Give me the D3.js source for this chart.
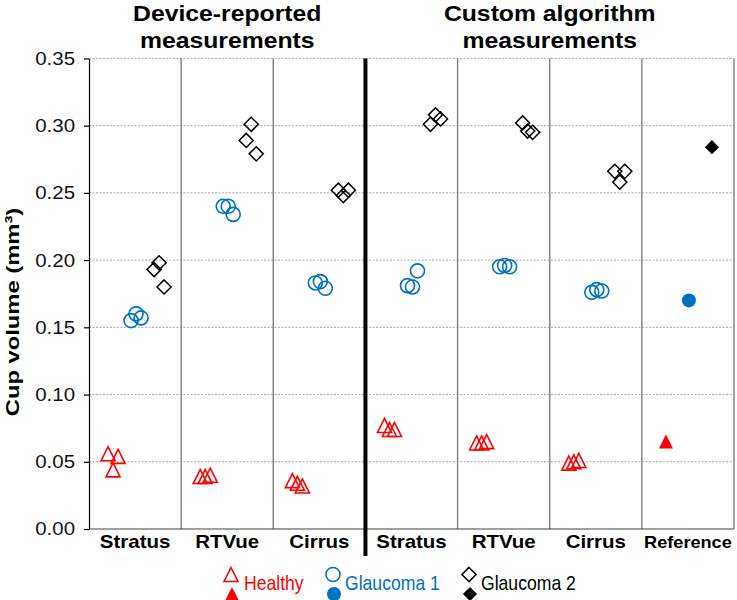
<!DOCTYPE html>
<html><head><meta charset="utf-8">
<script src="https://cdn.jsdelivr.net/npm/d3@7"></script>
<style>body{margin:0;background:#fff}svg{display:block}text{font-family:"Liberation Sans",Arial,sans-serif}</style>
</head><body><svg id="c" width="737" height="600"></svg>
<script>
// ---- data ----
const categories = ["Stratus","RTVue","Cirrus","Stratus","RTVue","Cirrus","Reference"];
const panelOf = [0,0,0,1,1,1,1];
const panelTitles = [["Device-reported","measurements"],["Custom algorithm","measurements"]];
const seriesNames = ["Healthy","Glaucoma 1","Glaucoma 2"];
const healthy   = [[0.056,0.044,0.054],[0.039,0.039,0.040],[0.036,0.034,0.032],[0.077,0.074,0.074],[0.064,0.064,0.065],[0.049,0.050,0.051],[0.065]];
const glaucoma1 = [[0.155,0.160,0.157],[0.240,0.240,0.234],[0.183,0.184,0.179],[0.181,0.180,0.192],[0.195,0.196,0.195],[0.176,0.178,0.177],[0.170]];
const glaucoma2 = [[0.193,0.198,0.180],[0.289,0.301,0.279],[0.252,0.248,0.252],[0.301,0.308,0.305],[0.302,0.296,0.295],[0.266,0.258,0.266],[0.284]];
const yTicks = [0,0.05,0.10,0.15,0.20,0.25,0.30,0.35];
const yTitle = "Cup volume (mm³)";
const filledCategory = "Reference";

// ---- layout ----
const L=89, R=734, T=58.4, B=529;
const svg = d3.select("#c");
const x = d3.scaleBand().domain(d3.range(categories.length)).range([L,R]);
const y = d3.scaleLinear().domain([0,0.35]).range([B,T]);
const gOff = d3.scalePoint().domain(seriesNames).range([-22,24]);
const rOff = d3.scalePoint().domain([0,1,2]).range([-5,5]);

const colors = {"Healthy":"#ff0000","Glaucoma 1":"#0070c0","Glaucoma 2":"#000000"};
const triUp = {draw(ctx,size){const s=Math.sqrt(size)/2;ctx.moveTo(0,-s);ctx.lineTo(s,s);ctx.lineTo(-s,s);ctx.closePath();}};
const diamond = {draw(ctx,size){const s=Math.sqrt(size)/2;ctx.moveTo(0,-s);ctx.lineTo(s,0);ctx.lineTo(0,s);ctx.lineTo(-s,0);ctx.closePath();}};
const symTypes = {"Healthy":triUp,"Glaucoma 1":d3.symbolCircle,"Glaucoma 2":diamond};
const symSizes = {"Healthy":196,"Glaucoma 1":Math.PI*49,"Glaucoma 2":200};
const strokeW = {"Healthy":1.6,"Glaucoma 1":1.6,"Glaucoma 2":1.5};
const sym = n => d3.symbol().type(symTypes[n]).size(symSizes[n])();

// gridlines
svg.append("g").selectAll("line").data(yTicks.filter(d=>d>0)).join("line")
  .attr("x1",L).attr("x2",R).attr("y1",d=>y(d)).attr("y2",d=>y(d))
  .attr("stroke","#a6a6a6").attr("stroke-width",1).attr("stroke-dasharray","2,1.5");

// vertical separators
const seps = d3.range(1,categories.length).map(i=>({i, xp:x(i), thick: panelOf[i]!==panelOf[i-1]}));
svg.append("g").selectAll("line").data(seps.filter(d=>!d.thick)).join("line")
  .attr("x1",d=>d.xp).attr("x2",d=>d.xp).attr("y1",T).attr("y2",B)
  .attr("stroke","#808080").attr("stroke-width",1.4);
svg.append("line").attr("x1",R).attr("x2",R).attr("y1",T).attr("y2",B)
  .attr("stroke","#808080").attr("stroke-width",1.4);
svg.append("line").attr("x1",L).attr("x2",R).attr("y1",B).attr("y2",B)
  .attr("stroke","#404040").attr("stroke-width",1.2);
svg.append("g").selectAll("line").data(seps.filter(d=>d.thick)).join("line")
  .attr("x1",d=>d.xp).attr("x2",d=>d.xp).attr("y1",T).attr("y2",556)
  .attr("stroke","#000").attr("stroke-width",4);

// y axis
const ya = svg.append("g").attr("transform",`translate(${L},0)`)
  .call(d3.axisLeft(y).tickValues(yTicks).tickFormat(d3.format(".2f")).tickSize(5).tickSizeOuter(0));
ya.select(".domain").attr("stroke","#000").attr("stroke-width",1.2);
ya.selectAll(".tick line").attr("stroke","#000").attr("stroke-width",1.2);
ya.selectAll(".tick text").attr("x",-14/1.1).attr("transform","scale(1.1,1)")
  .attr("font-size",18.6).attr("fill","#111").attr("font-family","Liberation Sans, Arial, sans-serif");

// y title
svg.append("text").attr("transform","translate(19,312) rotate(-90) scale(1.25,1)")
  .attr("text-anchor","middle").attr("font-weight","bold").attr("font-size",19).attr("fill","#000").text(yTitle);

// category labels
svg.append("g").selectAll("text").data(categories).join("text")
  .attr("transform",(d,i)=>`translate(${x(i)+x.bandwidth()/2},548) scale(1.1,1)`)
  .attr("text-anchor","middle").attr("font-weight","bold")
  .attr("font-size",d=>d===filledCategory?16.5:18.6).attr("fill","#000").text(d=>d);

// panel titles
const panelCenters = panelTitles.map((t,p)=>{
  const idx = d3.range(categories.length).filter(i=>panelOf[i]===p);
  return (x(idx[0]) + x(idx[idx.length-1]) + x.bandwidth())/2;
});
panelTitles.forEach((lines,p)=>{
  lines.forEach((ln,k)=>{
    svg.append("text").attr("transform",`translate(${panelCenters[p]},${21+27*k}) scale(1.1,1)`)
      .attr("text-anchor","middle").attr("font-weight","bold").attr("font-size",22.5).attr("fill","#000").text(ln);
  });
});

// points
const seriesData = {"Healthy":healthy,"Glaucoma 1":glaucoma1,"Glaucoma 2":glaucoma2};
const pts = [];
seriesNames.forEach(n=>{
  seriesData[n].forEach((vals,ci)=>{
    vals.forEach((v,ri)=>{
      const ro = vals.length>1 ? rOff(ri) : 0;
      pts.push({n, ci, v, px: x(ci)+x.bandwidth()/2+gOff(n)+ro, filled: categories[ci]===filledCategory});
    });
  });
});
svg.append("g").selectAll("path").data(pts).join("path")
  .attr("d",d=>sym(d.n))
  .attr("transform",d=>`translate(${d.px},${y(d.v)})`)
  .attr("fill",d=>d.filled?colors[d.n]:"none")
  .attr("stroke",d=>d.filled?"none":colors[d.n])
  .attr("stroke-width",d=>strokeW[d.n]);

// legend
const legX = [231, 333, 469];
const legTextX = [244, 345, 481];
const lg = svg.append("g");
seriesNames.forEach((n,i)=>{
  lg.append("path").attr("d",sym(n)).attr("transform",`translate(${legX[i]},574.5)`)
    .attr("fill","none").attr("stroke",colors[n]).attr("stroke-width",strokeW[n]);
  lg.append("path").attr("d",sym(n)).attr("transform",`translate(${legX[i]+1},594)`)
    .attr("fill",colors[n]);
  lg.append("text").attr("transform",`translate(${legTextX[i]},590) scale(0.88,1)`)
    .attr("font-size",20).attr("fill",colors[n]).text(n);
});
</script></body></html>
